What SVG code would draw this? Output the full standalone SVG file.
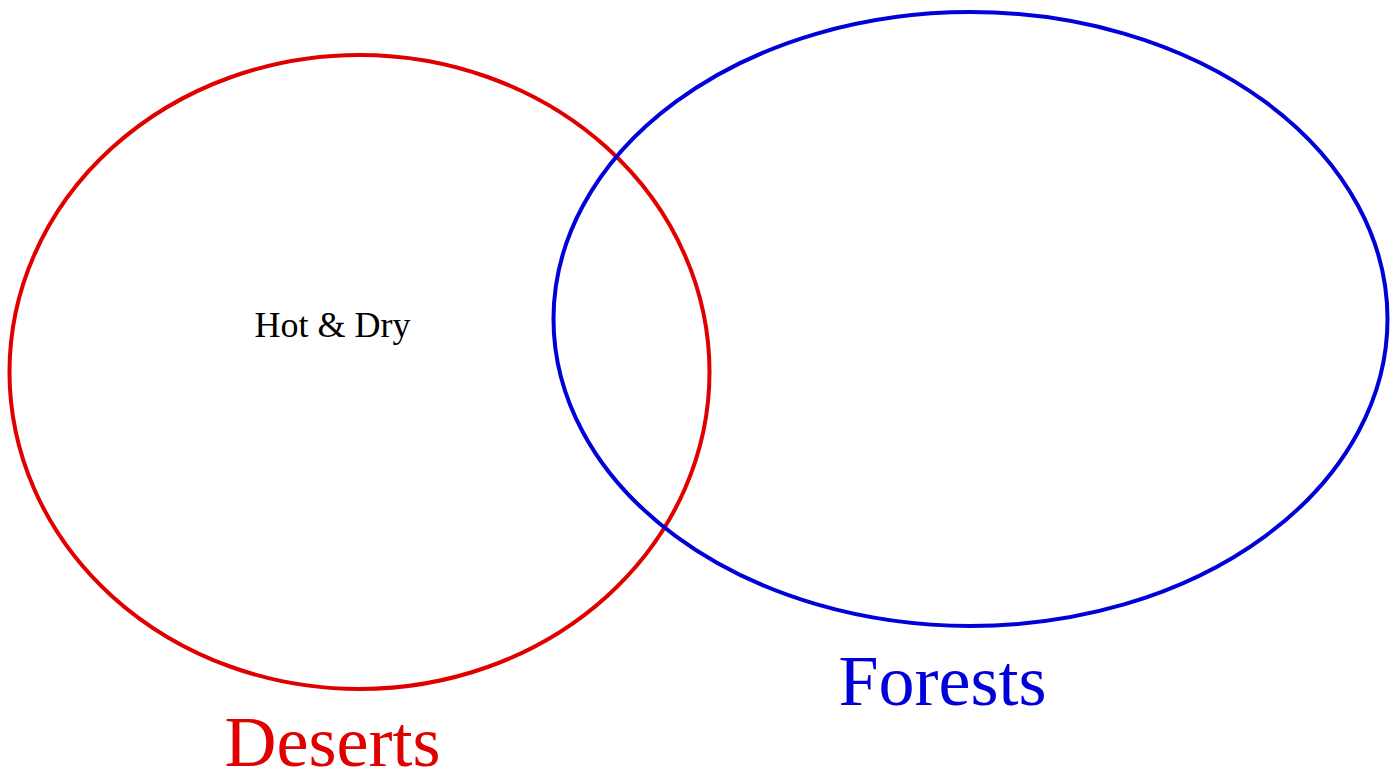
<svg xmlns="http://www.w3.org/2000/svg" width="1398" height="774" viewBox="0 0 1398 774">
<style>
.set{fill:none;stroke-width:4}
.lbl{font-family:"Liberation Serif","Times New Roman",serif;text-anchor:middle}
</style>
<rect width="1398" height="774" fill="#fff"/>
<g id="deserts">
<ellipse class="set" cx="359.5" cy="372" rx="350" ry="317" stroke="#e00000"/>
<text class="lbl" x="332.5" y="766" font-size="72" fill="#e00000">Deserts</text>
</g>
<g id="forests">
<ellipse class="set" cx="970.5" cy="319" rx="417" ry="307" stroke="#0000d8"/>
<text class="lbl" x="942.5" y="705" font-size="72" fill="#0000d8">Forests</text>
</g>
<g id="hot-dry">
<text class="lbl" x="332.5" y="337" font-size="36" fill="#000">Hot &amp; Dry</text>
</g>
<g id="connectors"/>
</svg>
